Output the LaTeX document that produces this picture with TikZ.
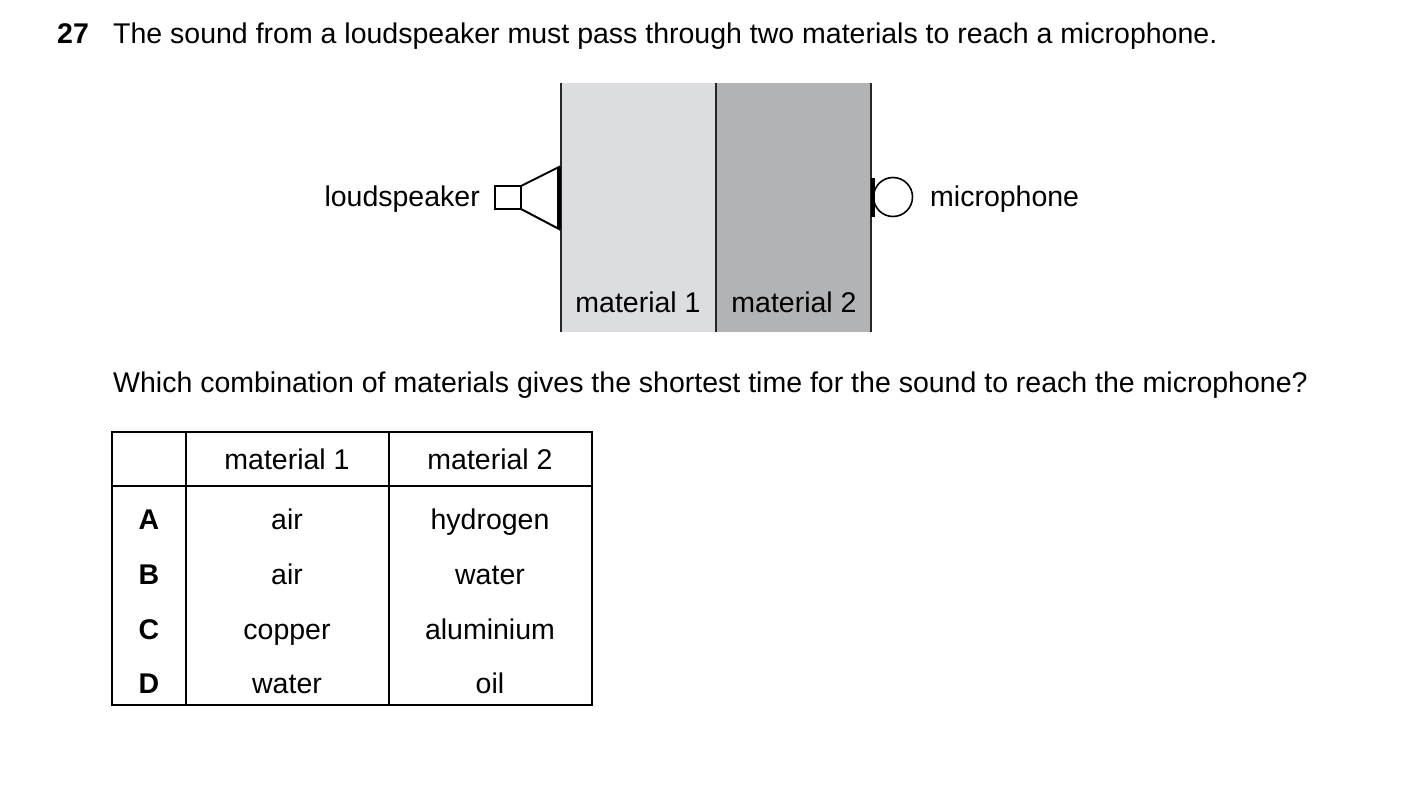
\documentclass[tikz,border=0pt]{standalone}
\usepackage{fontspec}
\setmainfont{Liberation Sans}
\begin{document}
\begin{tikzpicture}[x=1pt,y=-1pt,
  txt/.style={inner sep=0pt,font=\fontsize{28.5}{34}\selectfont,text height=20pt,text depth=6pt},
  ln/.style={line width=2pt,black!85}]
\useasboundingbox (0,0) rectangle (1403,797);
\node[txt,anchor=base west] (num) at (57,44) {\textbf{27}};
\node[txt,anchor=base west] (q1) at (113,44) {The sound from a loudspeaker must pass through two materials to reach a microphone.};
% materials
\fill[fill={rgb,255:red,220;green,221;blue,224}] (561,83) rectangle (716,332);
\fill[fill={rgb,255:red,178;green,179;blue,181}] (716,83) rectangle (871,332);
\draw[ln] (561,83) -- (561,332);
\draw[ln] (716,83) -- (716,332);
\draw[ln] (871,83) -- (871,332);
\node[txt] (m1) at (638,305) {material 1};
\node[txt] (m2) at (794,305) {material 2};
% loudspeaker
\draw[line width=2pt] (495,186) rectangle (521,209);
\draw[line width=2pt] (521,186) -- (559,167) -- (559,229) -- (521,209);
\draw[line width=4pt] (559,167) -- (559,229);
\node[txt,anchor=east] (ls) at (480,199) {loudspeaker};
% microphone
\draw[line width=4pt] (873,178) -- (873,217);
\draw[line width=1.6pt] (893,197) circle (19.5);
\node[txt,anchor=west] (mic) at (930,199) {microphone};
\node[txt,anchor=base west] (q2) at (113,392) {Which combination of materials gives the shortest time for the sound to reach the microphone?};
% table
\draw[line width=1.5pt] (112,432) rectangle (592,705);
\draw[line width=1.5pt] (112,486) -- (592,486);
\draw[line width=1.5pt] (186,432) -- (186,705);
\draw[line width=1.5pt] (389,432) -- (389,705);
\node[txt] (h1) at (287,462) {material 1};
\node[txt] (h2) at (490,462) {material 2};
\foreach \l/\a/\b/\y in {A/air/hydrogen/522, B/air/water/577, C/copper/aluminium/632, D/water/oil/686}{
  \node[txt] (r\l) at (149,\y) {\textbf{\l}};
  \node[txt] (a\l) at (287,\y) {\a};
  \node[txt] (b\l) at (490,\y) {\b};
}
\end{tikzpicture}
\end{document}
